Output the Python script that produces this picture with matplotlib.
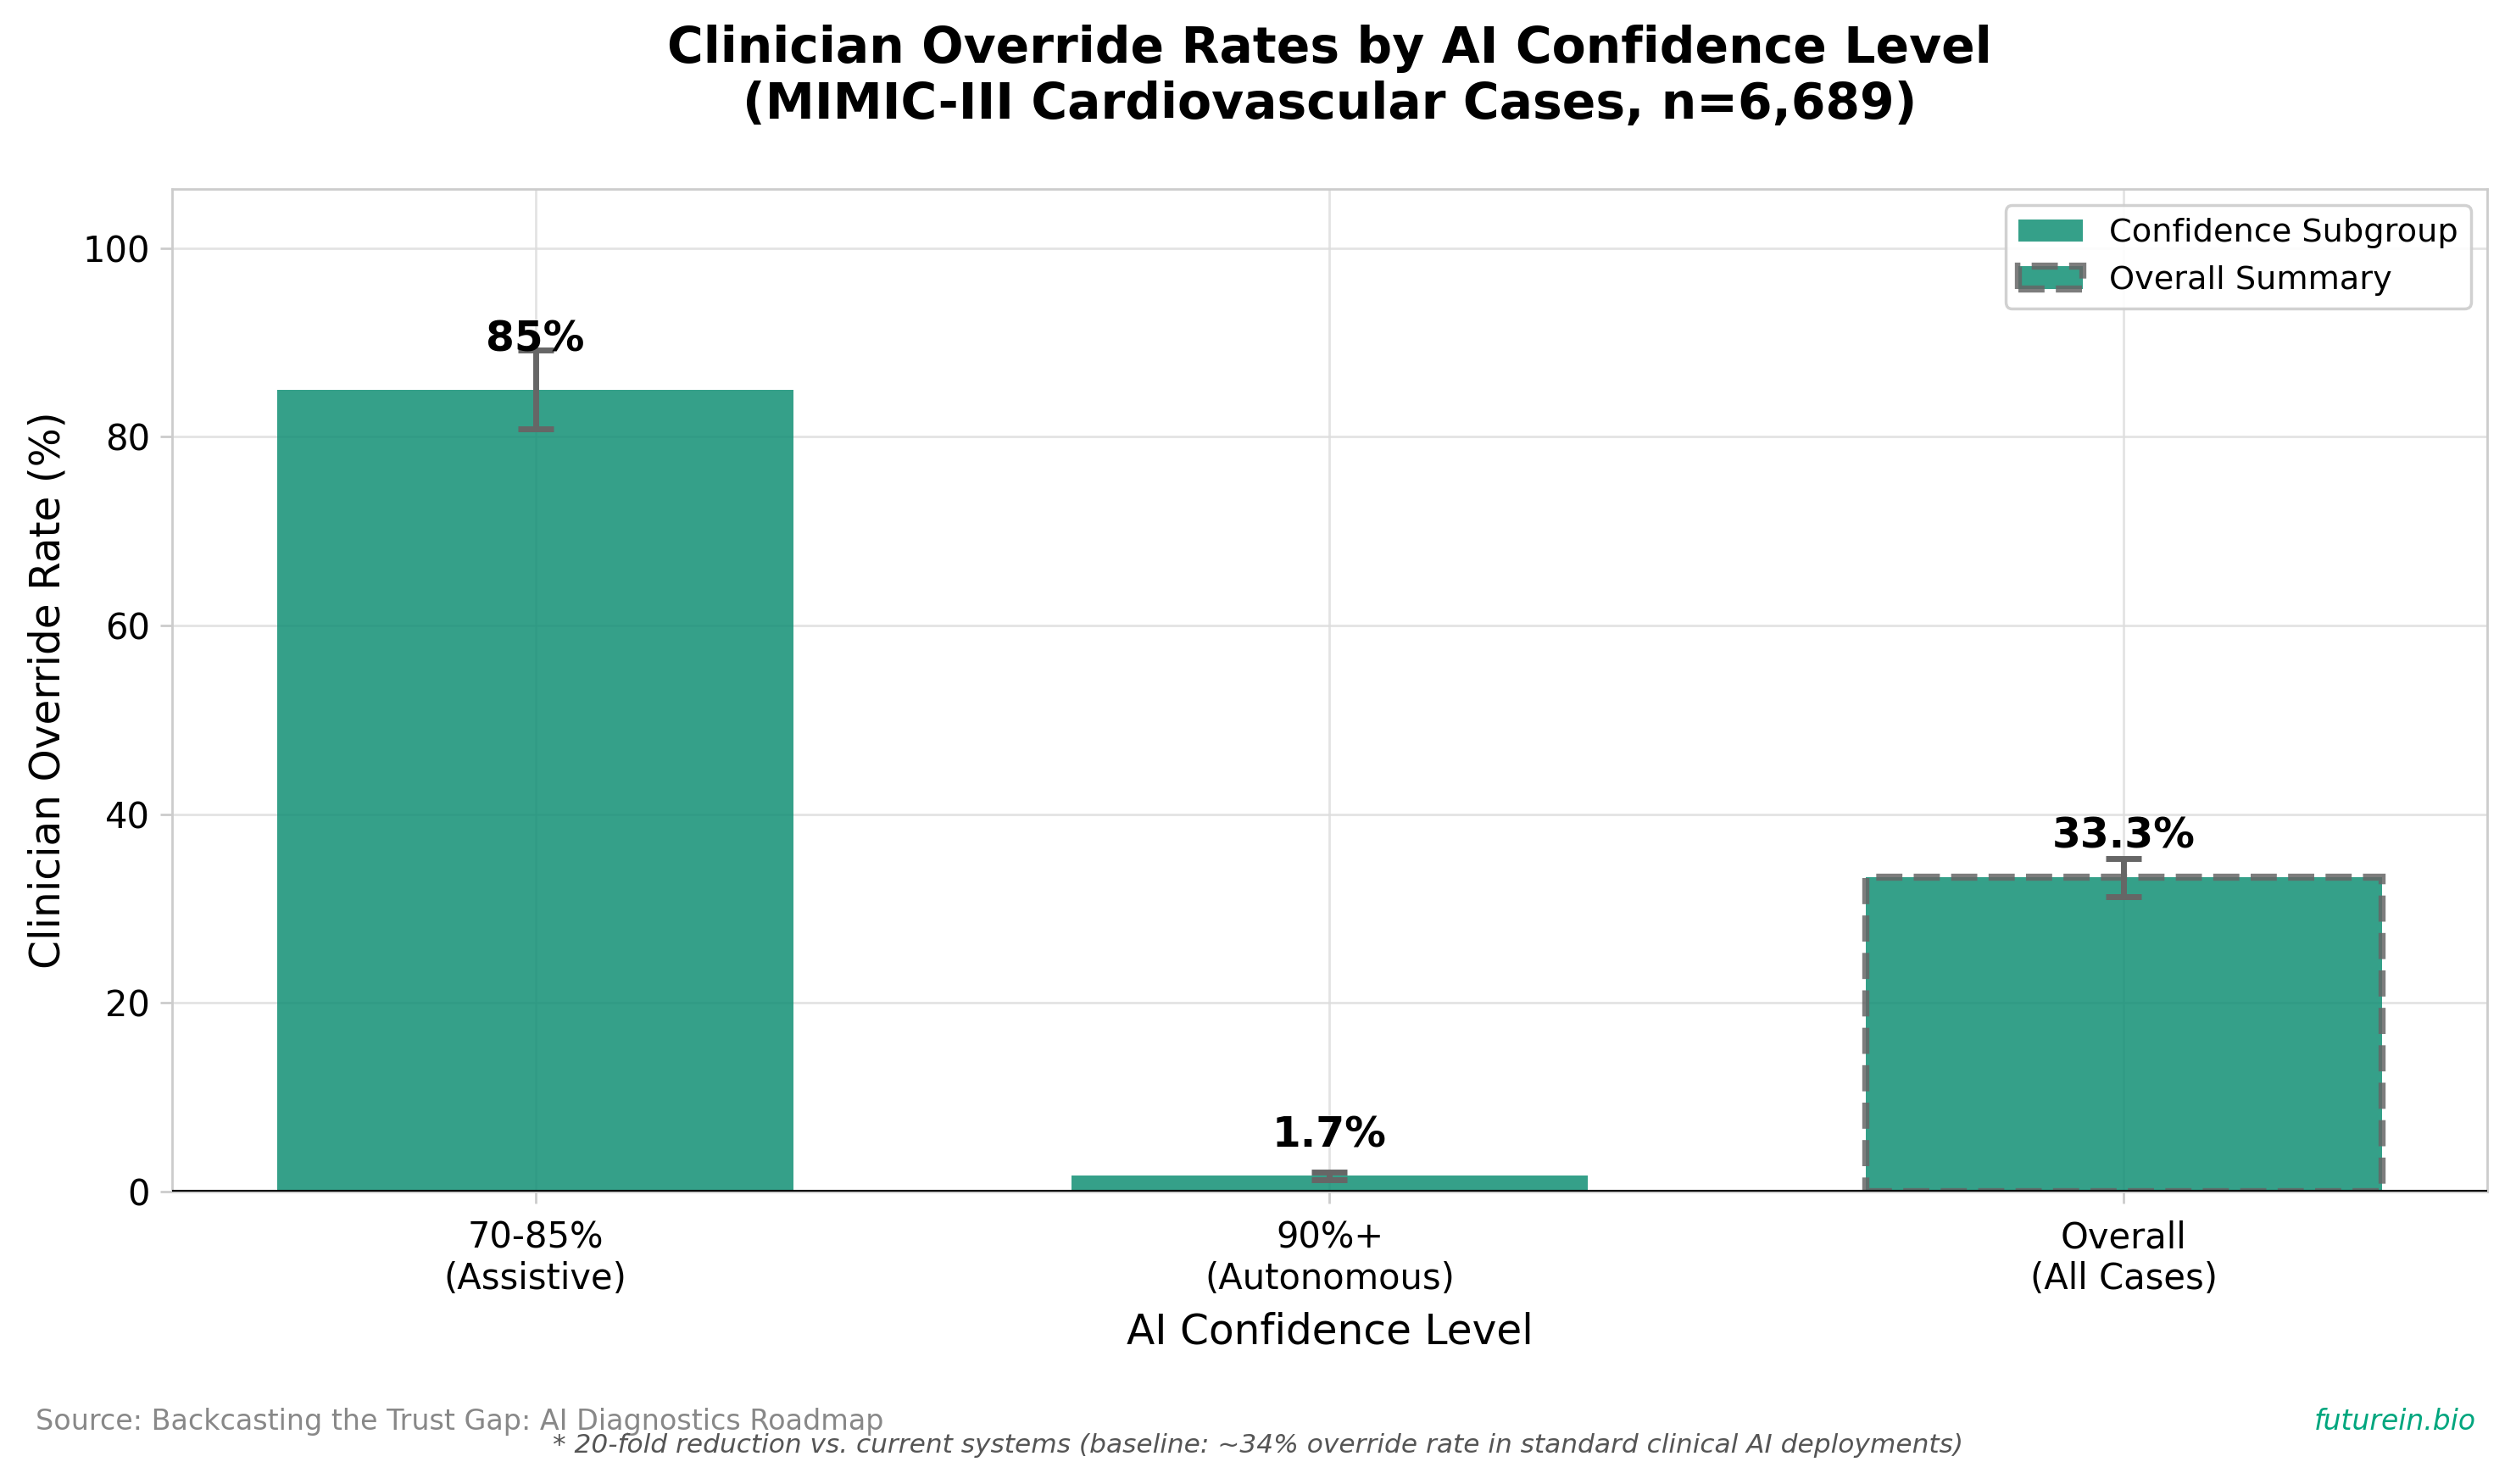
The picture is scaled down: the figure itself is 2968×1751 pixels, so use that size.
import matplotlib
matplotlib.use("Agg")
import matplotlib.pyplot as plt
from matplotlib.patches import Patch

categories = ["70-85%\n(Assistive)", "90%+\n(Autonomous)", "Overall\n(All Cases)"]
override_rates = [85.0, 1.7, 33.3]
errors = [4.2, 0.4, 2.0]
value_labels = ["85%", "1.7%", "33.3%"]
is_summary = [False, False, True]
label_offsets = [3.2, 2.1, 2.2]

bar_color = "#128F75"
edge_gray = "#666666"
plt.rcParams['font.family'] = ['DejaVu Sans']

DPI = 250
fig = plt.figure(figsize=(2968 / DPI, 1751 / DPI), dpi=DPI)
ax = fig.add_axes([0.0684, 0.197, 0.9201, 0.6756])

x = list(range(len(categories)))
bars = ax.bar(x, override_rates, width=0.65, color=bar_color, alpha=0.85, zorder=2)
for b, summ in zip(bars, is_summary):
    if summ:
        b.set_edgecolor(edge_gray)
        b.set_linestyle("--")
        b.set_linewidth(2.4)
ax.errorbar(x, override_rates, yerr=errors, fmt="none", ecolor="#666666",
            elinewidth=2, capsize=6, capthick=2, zorder=3)

for xi, v, off, lab in zip(x, override_rates, label_offsets, value_labels):
    ax.text(xi, v + off, lab, ha="center", va="bottom", fontsize=14,
            fontweight="bold", zorder=4)

ax.axhline(0, color="black", linewidth=1.2, zorder=3)
ax.set_ylim(0, max(override_rates) * 1.25)
ax.set_xticks(x)
ax.set_xticklabels(categories, fontsize=12)
ax.tick_params(axis="y", labelsize=12)
ax.tick_params(axis="both", color="#cccccc", length=4)
ax.tick_params(axis="x", pad=5.5)
ax.set_ylabel("Clinician Override Rate (%)", fontsize=14, labelpad=5)
ax.set_xlabel("AI Confidence Level", fontsize=14, labelpad=5)
ax.set_title("Clinician Override Rates by AI Confidence Level\n(MIMIC-III Cardiovascular Cases, n=6,689)",
             fontsize=16.8, fontweight="bold", pad=24)
ax.grid(True, color="#dddddd", linewidth=0.8, alpha=0.8, zorder=0)
ax.set_axisbelow(True)
for s in ax.spines.values():
    s.set_color("#cccccc")

handles = [Patch(facecolor=bar_color, alpha=0.85, label="Confidence Subgroup"),
           Patch(facecolor=bar_color, alpha=0.85, edgecolor=edge_gray, linestyle="--",
                 linewidth=2.4, label="Overall Summary")]
ax.legend(handles=handles, loc="upper right", fontsize=11, framealpha=0.9,
          edgecolor="#cccccc")

fig.text(0.014, 0.042, "Source: Backcasting the Trust Gap: AI Diagnostics Roadmap",
         fontsize=9.6, color="#888888", ha="left", va="center")
fig.text(0.984, 0.042, "futurein.bio", fontsize=9.5, color="#00a67e", style="italic",
         ha="right", va="center")
fig.text(0.5, 0.026, "* 20-fold reduction vs. current systems (baseline: ~34% override rate in standard clinical AI deployments)",
         fontsize=9, color="#555555", style="italic", ha="center", va="center")

fig.savefig("out.png", dpi=DPI)
